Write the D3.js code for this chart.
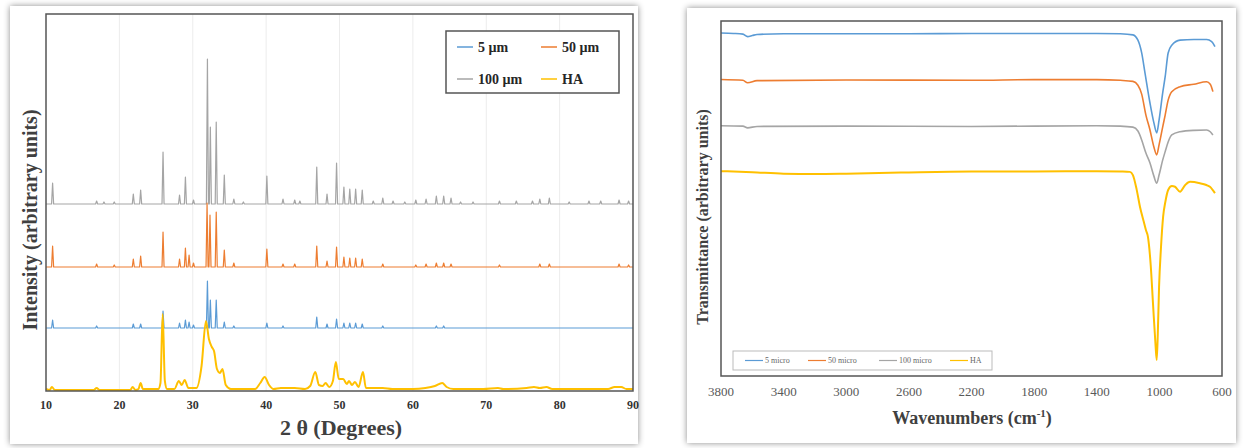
<!DOCTYPE html>
<html>
<head>
<meta charset="utf-8">
<script src="https://cdn.jsdelivr.net/npm/d3@7"></script>
<style>
  body { margin: 0; background: #fff; }
  svg { display: block; }
</style>
</head>
<body>
<svg id="chart"></svg>
<script>
// ---- XRD data (2θ, intensity) ----
const xrdNames = ["5 µm", "50 µm", "100 µm", "HA"];
const xrdColors = ["#5b9bd5", "#ed7d31", "#a5a5a5", "#ffc000"];
const xrdOffsets = [63, 124, 187, 0];
const xrdTicks = [10, 20, 30, 40, 50, 60, 70, 80, 90];

// peak lists [2θ, height] for the crystalline samples
const peaks5 = [[10.9, 8], [16.9, 2], [21.9, 4], [22.9, 4], [25.95, 17], [28.2, 5], [29.0, 8], [29.5, 6], [30.1, 3],
  [32.0, 47], [32.4, 28], [33.2, 28], [34.3, 6], [35.6, 2], [40.1, 5], [42.3, 2], [46.9, 11], [48.3, 4], [49.6, 9],
  [50.6, 5], [51.4, 5], [52.2, 5], [53.1, 4], [55.9, 2], [63.2, 2], [64.2, 2]];
const peaks50 = [[10.9, 21], [16.9, 3], [19.3, 2], [21.9, 8], [22.9, 11], [25.95, 35], [28.2, 8], [29.0, 19], [29.5, 12],
  [30.1, 4], [31.95, 64], [32.35, 52], [33.2, 55], [34.3, 17], [35.6, 4], [40.1, 18], [42.3, 3], [43.9, 3], [46.9, 21],
  [48.3, 6], [49.6, 20], [50.6, 10], [51.4, 9], [52.2, 9], [53.1, 8], [55.9, 3], [60.4, 2], [61.8, 3], [63.2, 4],
  [64.2, 4], [65.2, 3], [71.8, 2], [77.3, 3], [78.6, 3], [88.1, 3], [89.4, 2]];
const peaks100 = [[10.9, 21], [16.9, 3], [17.9, 2], [19.3, 2], [21.9, 10], [22.9, 14], [25.95, 52], [28.2, 9], [29.0, 27],
  [30.1, 4], [32.0, 145], [32.4, 77], [33.2, 82], [34.3, 29], [35.6, 5], [36.9, 2], [40.1, 28], [42.3, 5], [43.9, 4],
  [44.6, 3], [46.9, 37], [48.3, 10], [49.6, 41], [50.6, 17], [51.4, 15], [52.2, 15], [53.1, 14], [54.6, 3], [55.9, 6],
  [57.3, 3], [58.9, 2], [60.4, 4], [61.8, 5], [63.2, 8], [64.2, 8], [65.2, 6], [66.5, 2], [68.2, 2], [71.8, 3],
  [74.1, 3], [76.3, 3], [77.3, 5], [78.6, 6], [81.3, 2], [84.0, 3], [85.6, 3], [88.1, 4], [89.4, 3]];
// HA pattern points
const patternHA = [[10, 2], [10.5, 1], [10.8, 4], [11.2, 1], [13, 1], [16.5, 1], [16.9, 3], [17.3, 1], [21.5, 1], [21.8, 4],
  [22.2, 1], [22.6, 2], [22.9, 8], [23.2, 2], [25.3, 2], [25.6, 8], [25.9, 77], [26.2, 10], [26.5, 2], [27.5, 2],
  [28.1, 10], [28.5, 6], [28.9, 11], [29.4, 3], [30.5, 3], [31.2, 25], [31.8, 70], [32.2, 52], [32.6, 44], [32.9, 40],
  [33.3, 22], [33.7, 18], [34.05, 22], [34.5, 6], [35.2, 2], [37, 2], [38.5, 2], [39.2, 8], [39.8, 14], [40.4, 6],
  [41, 2], [42, 3], [43.9, 3], [45.3, 2], [46.0, 5], [46.7, 19], [47.2, 6], [47.7, 5], [48.1, 8], [48.6, 4],
  [49.1, 10], [49.5, 29], [49.9, 12], [50.5, 12], [51.0, 7], [51.3, 10], [51.7, 6], [52.1, 9], [52.6, 4], [53.2, 19],
  [53.6, 3], [55.9, 3], [57.2, 2], [60, 2], [61.7, 3], [63.0, 5], [64.0, 8], [64.6, 4], [65.5, 2], [69.6, 2],
  [71.6, 3], [72.3, 2], [75.5, 3], [76.5, 4], [77.3, 3], [78.2, 4], [79, 2], [81.8, 2], [84, 2], [86.6, 2],
  [87.5, 4], [88.4, 4], [89.1, 2], [90, 2]];

// ---- FTIR data (wavenumber, transmittance) ----
const ftirNames = ["5 micro", "50 micro", "100 micro", "HA"];
const ftirTicks = [3800, 3400, 3000, 2600, 2200, 1800, 1400, 1000, 600];
const ftir5 = [[3800, 96.6], [3720, 96.5], [3660, 96.3], [3630, 95.6], [3600, 95.9], [3570, 96.2], [3400, 96.4], [3000, 96.4],
  [2600, 96.4], [2200, 96.5], [1800, 96.5], [1400, 96.5], [1250, 96.4], [1169, 96.1], [1137, 94.6], [1113, 91.0],
  [1092, 85.4], [1060, 76.9], [1035, 71.3], [1017, 68.5], [1002, 72.1], [979, 79.7], [963, 84.3], [944, 91.0],
  [921, 93.2], [868, 94.6], [780, 94.8], [698, 94.8], [666, 94.2], [645, 92.8]];
const ftir50 = [[3800, 83.5], [3660, 83.3], [3630, 82.6], [3570, 83.2], [3000, 83.4], [2200, 83.3], [1800, 83.5], [1400, 83.5],
  [1250, 83.3], [1169, 83.0], [1137, 81.9], [1113, 79.4], [1086, 73.5], [1060, 69.3], [1035, 64.5], [1017, 62.3],
  [1002, 65.1], [979, 70.1], [963, 73.5], [944, 77.7], [921, 80.1], [868, 81.5], [780, 82.2], [698, 82.9],
  [675, 82.2], [658, 80.1]];
const ftir100 = [[3800, 70.5], [3660, 70.4], [3630, 69.9], [3570, 70.3], [3000, 70.4], [2200, 70.3], [1400, 70.5], [1250, 70.4],
  [1169, 70.1], [1137, 69.0], [1113, 66.5], [1086, 62.8], [1060, 60.0], [1035, 56.3], [1017, 54.3], [1002, 56.6],
  [979, 60.8], [963, 63.2], [944, 65.9], [921, 67.9], [868, 68.8], [780, 69.2], [698, 69.3], [675, 68.8], [658, 67.9]];
const ftirHA = [[3800, 57.7], [3600, 57.4], [3400, 57.0], [3200, 56.9], [3000, 57.0], [2650, 57.3], [2200, 57.6], [1800, 57.6],
  [1400, 57.7], [1250, 57.6], [1188, 57.5], [1169, 56.6], [1145, 52.5], [1124, 47.7], [1100, 43.5], [1086, 41.1],
  [1073, 39.2], [1055, 31], [1041, 20.6], [1025, 9], [1017, 4.5], [1010, 12], [1002, 25.1], [990, 36], [976, 44.9],
  [962, 49], [944, 52.4], [920, 53.5], [900, 53.3], [868, 51.9], [835, 53.8], [804, 54.7], [741, 54.3], [700, 53.8],
  [677, 53.3], [645, 51.5]];

const width = 1244, height = 448;
const serif = "'Liberation Serif', 'Times New Roman', serif";

const svg = d3.select("#chart").attr("width", width).attr("height", height);

const defs = svg.append("defs");
const shadow = defs.append("filter").attr("id", "shadow")
  .attr("x", "-5%").attr("y", "-5%").attr("width", "110%").attr("height", "110%");
shadow.append("feDropShadow").attr("dx", 0).attr("dy", 0).attr("stdDeviation", 3)
  .attr("flood-color", "#000").attr("flood-opacity", 0.45);

// cards
svg.append("rect").attr("x", 10).attr("y", 6).attr("width", 628).attr("height", 438)
  .attr("fill", "#fff").attr("filter", "url(#shadow)");
svg.append("rect").attr("x", 687).attr("y", 8).attr("width", 549).attr("height", 435)
  .attr("fill", "#fff").attr("filter", "url(#shadow)");

/* ---------- left: XRD ---------- */
const L = {left: 46, right: 633, top: 14, bottom: 391};
const x1 = d3.scaleLinear().domain([10, 90]).range([L.left, L.right]);
const y1 = d3.scaleLinear().domain([0, 377]).range([L.bottom, L.top]);

const gL = svg.append("g");

// light vertical gridlines
gL.append("g").selectAll("line")
  .data(xrdTicks.slice(1, -1))
  .join("line")
  .attr("x1", d => x1(d)).attr("x2", d => x1(d))
  .attr("y1", L.top).attr("y2", L.bottom)
  .attr("stroke", "#ececec").attr("stroke-width", 1);

function peakPoints(list) {
  const hw = 0.14;
  const pts = [[10, 0]];
  list.forEach(([p, h]) => { pts.push([p - hw, 0], [p, h], [p + hw, 0]); });
  pts.push([90, 0]);
  return pts;
}

const xrdData = [peakPoints(peaks5), peakPoints(peaks50), peakPoints(peaks100), patternHA];

const lineXrd = (off) => d3.line().x(d => x1(d[0])).y(d => y1(d[1] + off));

// draw order: 100 µm, 50 µm, 5 µm, HA
[2, 1, 0, 3].forEach(i => {
  gL.append("path")
    .datum(xrdData[i])
    .attr("fill", "none")
    .attr("stroke", xrdColors[i])
    .attr("stroke-width", i === 3 ? 2 : 1.2)
    .attr("stroke-linejoin", "round")
    .attr("d", i === 3 ? lineXrd(xrdOffsets[i]).curve(d3.curveMonotoneX)(xrdData[i]) : lineXrd(xrdOffsets[i])(xrdData[i]));
});

// frame
gL.append("rect").attr("x", L.left).attr("y", L.top)
  .attr("width", L.right - L.left).attr("height", L.bottom - L.top)
  .attr("fill", "none").attr("stroke", "#555").attr("stroke-width", 1.5);

// x axis labels
gL.append("g").selectAll("text")
  .data(xrdTicks)
  .join("text")
  .attr("x", d => x1(d)).attr("y", 409)
  .attr("text-anchor", "middle")
  .attr("font-family", serif).attr("font-weight", "bold").attr("font-size", 12)
  .attr("fill", "#333")
  .text(d => d);

gL.append("text")
  .attr("x", 341).attr("y", 435)
  .attr("text-anchor", "middle")
  .attr("font-family", serif).attr("font-weight", "bold").attr("font-size", 22)
  .attr("fill", "#404040")
  .text("2 θ (Degrees)");

gL.append("text")
  .attr("transform", "translate(37,220) rotate(-90)")
  .attr("text-anchor", "middle")
  .attr("font-family", serif).attr("font-weight", "bold").attr("font-size", 20)
  .attr("fill", "#404040")
  .text("Intensity (arbitrary units)");

// legend
const legL = gL.append("g");
legL.append("rect").attr("x", 446).attr("y", 31).attr("width", 173).attr("height", 62)
  .attr("fill", "#fff").attr("stroke", "#555").attr("stroke-width", 1.5);
const legPos = [[457, 47], [541, 47], [457, 79], [541, 79]];
xrdNames.forEach((n, i) => {
  const [lx, ly] = legPos[i];
  legL.append("line").attr("x1", lx).attr("x2", lx + 16).attr("y1", ly).attr("y2", ly)
    .attr("stroke", xrdColors[i]).attr("stroke-width", 1.5);
  legL.append("text").attr("x", lx + 21).attr("y", ly + 4.5)
    .attr("font-family", serif).attr("font-weight", "bold").attr("font-size", 14)
    .attr("fill", "#262626")
    .text(n);
});

/* ---------- right: FTIR ---------- */
const R = {left: 721, right: 1222, top: 21, bottom: 376};
const x2 = d3.scaleLinear().domain([3800, 600]).range([R.left, R.right]);
const y2 = d3.scaleLinear().domain([0, 100]).range([R.bottom, R.top]);

const gR = svg.append("g");
const ftirData = [ftir5, ftir50, ftir100, ftirHA];
const lineFtir = d3.line().x(d => x2(d[0])).y(d => y2(d[1])).curve(d3.curveMonotoneX);

ftirData.forEach((s, i) => {
  gR.append("path")
    .datum(s)
    .attr("fill", "none")
    .attr("stroke", xrdColors[i])
    .attr("stroke-width", i === 3 ? 2 : 1.6)
    .attr("d", lineFtir);
});

gR.append("rect").attr("x", R.left).attr("y", R.top)
  .attr("width", R.right - R.left).attr("height", R.bottom - R.top)
  .attr("fill", "none").attr("stroke", "#555").attr("stroke-width", 1.5);

gR.append("g").selectAll("text")
  .data(ftirTicks)
  .join("text")
  .attr("x", d => x2(d)).attr("y", 396)
  .attr("text-anchor", "middle")
  .attr("font-family", serif).attr("font-size", 13)
  .attr("fill", "#595959")
  .text(d => d);

const xt = gR.append("text")
  .attr("x", 972).attr("y", 424)
  .attr("text-anchor", "middle")
  .attr("font-family", serif).attr("font-weight", "bold").attr("font-size", 18)
  .attr("fill", "#404040");
xt.append("tspan").text("Wavenumbers (cm");
xt.append("tspan").attr("font-size", 11).attr("dy", -7).text("-1");
xt.append("tspan").attr("dy", 7).text(")");

gR.append("text")
  .attr("transform", "translate(708,217) rotate(-90)")
  .attr("text-anchor", "middle")
  .attr("font-family", serif).attr("font-weight", "bold").attr("font-size", 16)
  .attr("fill", "#404040")
  .text("Transmittance (arbitrary units)");

// bottom legend
const legR = gR.append("g");
legR.append("rect").attr("x", 733).attr("y", 351).attr("width", 259).attr("height", 19)
  .attr("fill", "#fff").attr("stroke", "#bbb").attr("stroke-width", 1);
const legRx = [745, 808, 879, 950];
ftirNames.forEach((n, i) => {
  const lx = legRx[i], ly = 360.5;
  legR.append("line").attr("x1", lx).attr("x2", lx + 18).attr("y1", ly).attr("y2", ly)
    .attr("stroke", xrdColors[i]).attr("stroke-width", 1.2);
  legR.append("text").attr("x", lx + 20).attr("y", ly + 2.5)
    .attr("font-family", serif).attr("font-size", 8)
    .attr("fill", "#666")
    .text(n);
});
</script>
</body>
</html>
